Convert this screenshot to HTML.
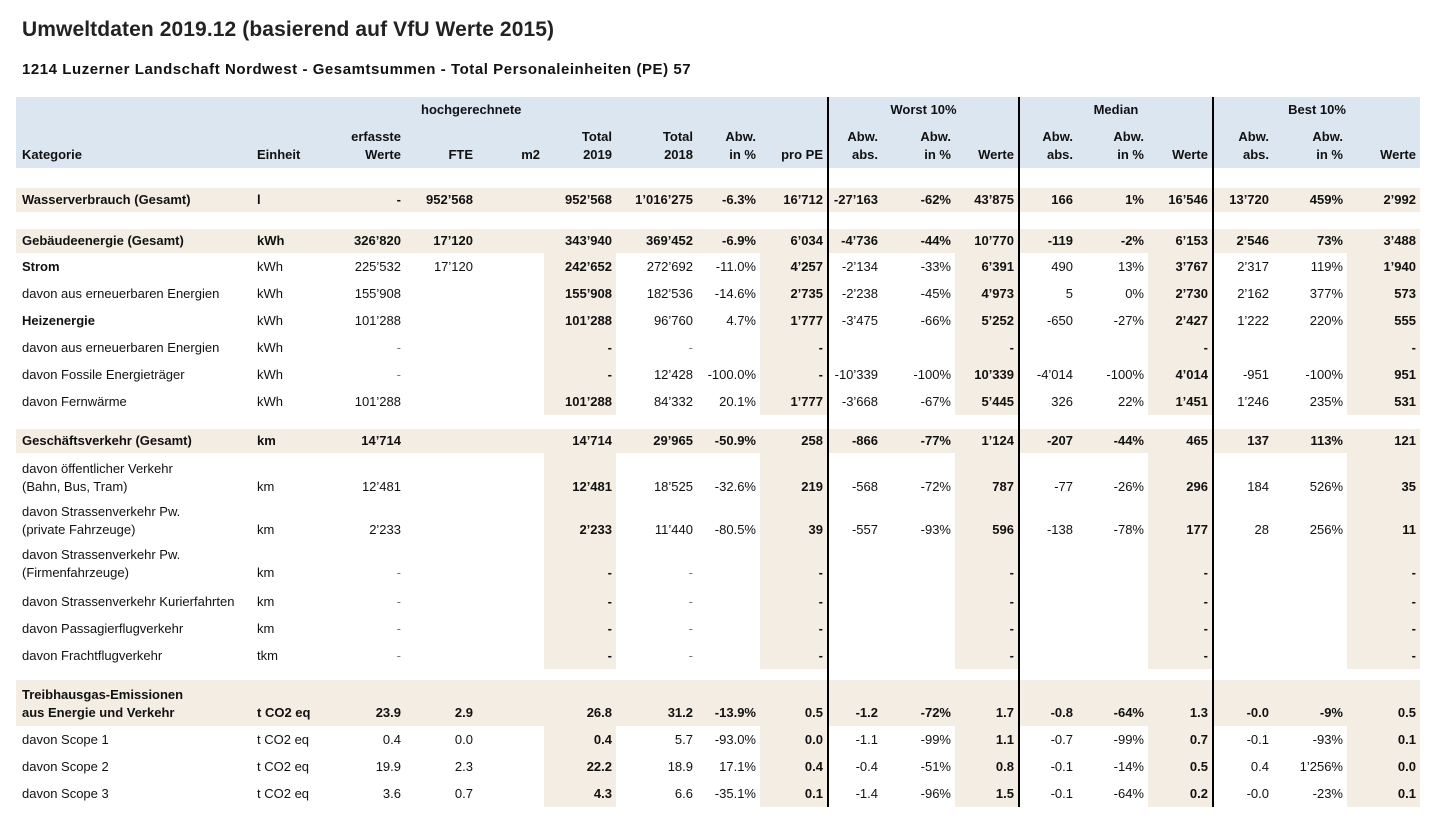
<!DOCTYPE html>
<html><head><meta charset="utf-8">
<style>
body{margin:0;background:#fff;font-family:"Liberation Sans",sans-serif;color:#111;width:1440px;height:831px;overflow:hidden;position:relative}
h1{position:absolute;left:22px;top:18px;margin:0;font-size:21px;font-weight:bold;color:#222;letter-spacing:0.1px}
h2{position:absolute;left:22px;top:61px;margin:0;font-size:15px;font-weight:bold;letter-spacing:0.55px}
table{position:absolute;left:16px;top:97px;border-collapse:collapse;table-layout:fixed;font-size:13px}
td{padding:0 4px;text-align:right;white-space:nowrap;overflow:visible;line-height:18px}
td.l{text-align:left;padding-left:6px}
.hd td{background:#dce6f1;font-weight:bold}
.g td{background:#f4ede4;font-weight:bold}
.b5,.b8,.b11,.b14,.b17{background:#f4ede4}
.bk{border-right:2px solid #000}
.r td{height:27px}
.t td{height:43px;vertical-align:bottom;padding-bottom:0}
.t3 td{height:43px;vertical-align:bottom;padding-bottom:6px}
.tg td{height:42px;vertical-align:bottom;padding-bottom:4px}
.bo{font-weight:bold}
.gr{color:#777}
</style></head><body>
<h1>Umweltdaten 2019.12 (basierend auf VfU Werte 2015)</h1>
<h2>1214 Luzerner Landschaft Nordwest - Gesamtsummen - Total Personaleinheiten (PE) 57</h2>
<table>
<colgroup>
<col style="width:239px"><col style="width:75px"><col style="width:75px"><col style="width:72px"><col style="width:67px"><col style="width:72px"><col style="width:81px"><col style="width:63px"><col style="width:68px"><col style="width:54px"><col style="width:73px"><col style="width:64px"><col style="width:58px"><col style="width:71px"><col style="width:65px"><col style="width:60px"><col style="width:74px"><col style="width:73px">
</colgroup>
<tr class="hd" style="height:26px"><td></td><td></td><td></td><td colspan="3" style="text-align:left;padding-left:16px">hochgerechnete</td><td></td><td></td><td class="bk"></td><td colspan="3" class="bk" style="text-align:center">Worst 10%</td><td colspan="3" class="bk" style="text-align:center">Median</td><td colspan="3" style="text-align:center">Best 10%</td></tr>
<tr class="hd" style="height:45px;vertical-align:bottom"><td class="l" style="padding-bottom:4px">Kategorie</td><td class="l" style="padding-left:2px;padding-bottom:4px">Einheit</td><td style="padding-bottom:4px">erfasste<br>Werte</td><td style="padding-bottom:4px">FTE</td><td style="padding-bottom:4px">m2</td><td style="padding-bottom:4px">Total<br>2019</td><td style="padding-bottom:4px">Total<br>2018</td><td style="padding-bottom:4px">Abw.<br>in %</td><td class="bk" style="padding-bottom:4px">pro PE</td><td style="padding-bottom:4px">Abw.<br>abs.</td><td style="padding-bottom:4px">Abw.<br>in %</td><td class="bk" style="padding-bottom:4px">Werte</td><td style="padding-bottom:4px">Abw.<br>abs.</td><td style="padding-bottom:4px">Abw.<br>in %</td><td class="bk" style="padding-bottom:4px">Werte</td><td style="padding-bottom:4px">Abw.<br>abs.</td><td style="padding-bottom:4px">Abw.<br>in %</td><td style="padding-bottom:4px">Werte</td></tr>
<tr style="height:20px"><td></td><td></td><td></td><td></td><td></td><td></td><td></td><td></td><td class="bk"></td><td></td><td></td><td class="bk"></td><td></td><td></td><td class="bk"></td><td></td><td></td><td></td></tr>
<tr class="g" style="height:24px"><td class="l">Wasserverbrauch (Gesamt)</td><td class="l" style="padding-left:2px">l</td><td>-</td><td>952’568</td><td></td><td>952’568</td><td>1’016’275</td><td>-6.3%</td><td class="bk">16’712</td><td>-27’163</td><td>-62%</td><td class="bk">43’875</td><td>166</td><td>1%</td><td class="bk">16’546</td><td>13’720</td><td>459%</td><td>2’992</td></tr>
<tr style="height:17px"><td></td><td></td><td></td><td></td><td></td><td></td><td></td><td></td><td class="bk"></td><td></td><td></td><td class="bk"></td><td></td><td></td><td class="bk"></td><td></td><td></td><td></td></tr>
<tr class="g" style="height:24px"><td class="l">Gebäudeenergie (Gesamt)</td><td class="l" style="padding-left:2px">kWh</td><td>326’820</td><td>17’120</td><td></td><td>343’940</td><td>369’452</td><td>-6.9%</td><td class="bk">6’034</td><td>-4’736</td><td>-44%</td><td class="bk">10’770</td><td>-119</td><td>-2%</td><td class="bk">6’153</td><td>2’546</td><td>73%</td><td>3’488</td></tr>
<tr class="r"><td class="l bo">Strom</td><td class="l" style="padding-left:2px">kWh</td><td>225’532</td><td>17’120</td><td></td><td class="b5 bo">242’652</td><td>272’692</td><td>-11.0%</td><td class="b8 bk bo">4’257</td><td>-2’134</td><td>-33%</td><td class="b11 bk bo">6’391</td><td>490</td><td>13%</td><td class="b14 bk bo">3’767</td><td>2’317</td><td>119%</td><td class="b17 bo">1’940</td></tr>
<tr class="r"><td class="l">davon aus erneuerbaren Energien</td><td class="l" style="padding-left:2px">kWh</td><td>155’908</td><td></td><td></td><td class="b5 bo">155’908</td><td>182’536</td><td>-14.6%</td><td class="b8 bk bo">2’735</td><td>-2’238</td><td>-45%</td><td class="b11 bk bo">4’973</td><td>5</td><td>0%</td><td class="b14 bk bo">2’730</td><td>2’162</td><td>377%</td><td class="b17 bo">573</td></tr>
<tr class="r"><td class="l bo">Heizenergie</td><td class="l" style="padding-left:2px">kWh</td><td>101’288</td><td></td><td></td><td class="b5 bo">101’288</td><td>96’760</td><td>4.7%</td><td class="b8 bk bo">1’777</td><td>-3’475</td><td>-66%</td><td class="b11 bk bo">5’252</td><td>-650</td><td>-27%</td><td class="b14 bk bo">2’427</td><td>1’222</td><td>220%</td><td class="b17 bo">555</td></tr>
<tr class="r"><td class="l">davon aus erneuerbaren Energien</td><td class="l" style="padding-left:2px">kWh</td><td class="gr">-</td><td></td><td></td><td class="b5 bo">-</td><td class="gr">-</td><td></td><td class="b8 bk bo">-</td><td></td><td></td><td class="b11 bk bo">-</td><td></td><td></td><td class="b14 bk bo">-</td><td></td><td></td><td class="b17 bo">-</td></tr>
<tr class="r"><td class="l">davon Fossile Energieträger</td><td class="l" style="padding-left:2px">kWh</td><td class="gr">-</td><td></td><td></td><td class="b5 bo">-</td><td>12’428</td><td>-100.0%</td><td class="b8 bk bo">-</td><td>-10’339</td><td>-100%</td><td class="b11 bk bo">10’339</td><td>-4’014</td><td>-100%</td><td class="b14 bk bo">4’014</td><td>-951</td><td>-100%</td><td class="b17 bo">951</td></tr>
<tr class="r"><td class="l">davon Fernwärme</td><td class="l" style="padding-left:2px">kWh</td><td>101’288</td><td></td><td></td><td class="b5 bo">101’288</td><td>84’332</td><td>20.1%</td><td class="b8 bk bo">1’777</td><td>-3’668</td><td>-67%</td><td class="b11 bk bo">5’445</td><td>326</td><td>22%</td><td class="b14 bk bo">1’451</td><td>1’246</td><td>235%</td><td class="b17 bo">531</td></tr>
<tr style="height:14px"><td></td><td></td><td></td><td></td><td></td><td></td><td></td><td></td><td class="bk"></td><td></td><td></td><td class="bk"></td><td></td><td></td><td class="bk"></td><td></td><td></td><td></td></tr>
<tr class="g" style="height:24px"><td class="l">Geschäftsverkehr (Gesamt)</td><td class="l" style="padding-left:2px">km</td><td>14’714</td><td></td><td></td><td>14’714</td><td>29’965</td><td>-50.9%</td><td class="bk">258</td><td>-866</td><td>-77%</td><td class="bk">1’124</td><td>-207</td><td>-44%</td><td class="bk">465</td><td>137</td><td>113%</td><td>121</td></tr>
<tr class="t"><td class="l">davon öffentlicher Verkehr<br>(Bahn, Bus, Tram)</td><td class="l" style="padding-left:2px">km</td><td>12’481</td><td></td><td></td><td class="b5 bo">12’481</td><td>18’525</td><td>-32.6%</td><td class="b8 bk bo">219</td><td>-568</td><td>-72%</td><td class="b11 bk bo">787</td><td>-77</td><td>-26%</td><td class="b14 bk bo">296</td><td>184</td><td>526%</td><td class="b17 bo">35</td></tr>
<tr class="t"><td class="l">davon Strassenverkehr Pw.<br>(private Fahrzeuge)</td><td class="l" style="padding-left:2px">km</td><td>2’233</td><td></td><td></td><td class="b5 bo">2’233</td><td>11’440</td><td>-80.5%</td><td class="b8 bk bo">39</td><td>-557</td><td>-93%</td><td class="b11 bk bo">596</td><td>-138</td><td>-78%</td><td class="b14 bk bo">177</td><td>28</td><td>256%</td><td class="b17 bo">11</td></tr>
<tr class="t3"><td class="l">davon Strassenverkehr Pw.<br>(Firmenfahrzeuge)</td><td class="l" style="padding-left:2px">km</td><td class="gr">-</td><td></td><td></td><td class="b5 bo">-</td><td class="gr">-</td><td></td><td class="b8 bk bo">-</td><td></td><td></td><td class="b11 bk bo">-</td><td></td><td></td><td class="b14 bk bo">-</td><td></td><td></td><td class="b17 bo">-</td></tr>
<tr class="r"><td class="l">davon Strassenverkehr Kurierfahrten</td><td class="l" style="padding-left:2px">km</td><td class="gr">-</td><td></td><td></td><td class="b5 bo">-</td><td class="gr">-</td><td></td><td class="b8 bk bo">-</td><td></td><td></td><td class="b11 bk bo">-</td><td></td><td></td><td class="b14 bk bo">-</td><td></td><td></td><td class="b17 bo">-</td></tr>
<tr class="r"><td class="l">davon Passagierflugverkehr</td><td class="l" style="padding-left:2px">km</td><td class="gr">-</td><td></td><td></td><td class="b5 bo">-</td><td class="gr">-</td><td></td><td class="b8 bk bo">-</td><td></td><td></td><td class="b11 bk bo">-</td><td></td><td></td><td class="b14 bk bo">-</td><td></td><td></td><td class="b17 bo">-</td></tr>
<tr class="r"><td class="l">davon Frachtflugverkehr</td><td class="l" style="padding-left:2px">tkm</td><td class="gr">-</td><td></td><td></td><td class="b5 bo">-</td><td class="gr">-</td><td></td><td class="b8 bk bo">-</td><td></td><td></td><td class="b11 bk bo">-</td><td></td><td></td><td class="b14 bk bo">-</td><td></td><td></td><td class="b17 bo">-</td></tr>
<tr style="height:11px"><td></td><td></td><td></td><td></td><td></td><td></td><td></td><td></td><td class="bk"></td><td></td><td></td><td class="bk"></td><td></td><td></td><td class="bk"></td><td></td><td></td><td></td></tr>
<tr class="g tg"><td class="l">Treibhausgas-Emissionen<br>aus Energie und Verkehr</td><td class="l" style="padding-left:2px">t CO2 eq</td><td>23.9</td><td>2.9</td><td></td><td>26.8</td><td>31.2</td><td>-13.9%</td><td class="bk">0.5</td><td>-1.2</td><td>-72%</td><td class="bk">1.7</td><td>-0.8</td><td>-64%</td><td class="bk">1.3</td><td>-0.0</td><td>-9%</td><td>0.5</td></tr>
<tr class="r"><td class="l">davon Scope 1</td><td class="l" style="padding-left:2px">t CO2 eq</td><td>0.4</td><td>0.0</td><td></td><td class="b5 bo">0.4</td><td>5.7</td><td>-93.0%</td><td class="b8 bk bo">0.0</td><td>-1.1</td><td>-99%</td><td class="b11 bk bo">1.1</td><td>-0.7</td><td>-99%</td><td class="b14 bk bo">0.7</td><td>-0.1</td><td>-93%</td><td class="b17 bo">0.1</td></tr>
<tr class="r"><td class="l">davon Scope 2</td><td class="l" style="padding-left:2px">t CO2 eq</td><td>19.9</td><td>2.3</td><td></td><td class="b5 bo">22.2</td><td>18.9</td><td>17.1%</td><td class="b8 bk bo">0.4</td><td>-0.4</td><td>-51%</td><td class="b11 bk bo">0.8</td><td>-0.1</td><td>-14%</td><td class="b14 bk bo">0.5</td><td>0.4</td><td>1’256%</td><td class="b17 bo">0.0</td></tr>
<tr class="r"><td class="l">davon Scope 3</td><td class="l" style="padding-left:2px">t CO2 eq</td><td>3.6</td><td>0.7</td><td></td><td class="b5 bo">4.3</td><td>6.6</td><td>-35.1%</td><td class="b8 bk bo">0.1</td><td>-1.4</td><td>-96%</td><td class="b11 bk bo">1.5</td><td>-0.1</td><td>-64%</td><td class="b14 bk bo">0.2</td><td>-0.0</td><td>-23%</td><td class="b17 bo">0.1</td></tr>
</table>
</body></html>
